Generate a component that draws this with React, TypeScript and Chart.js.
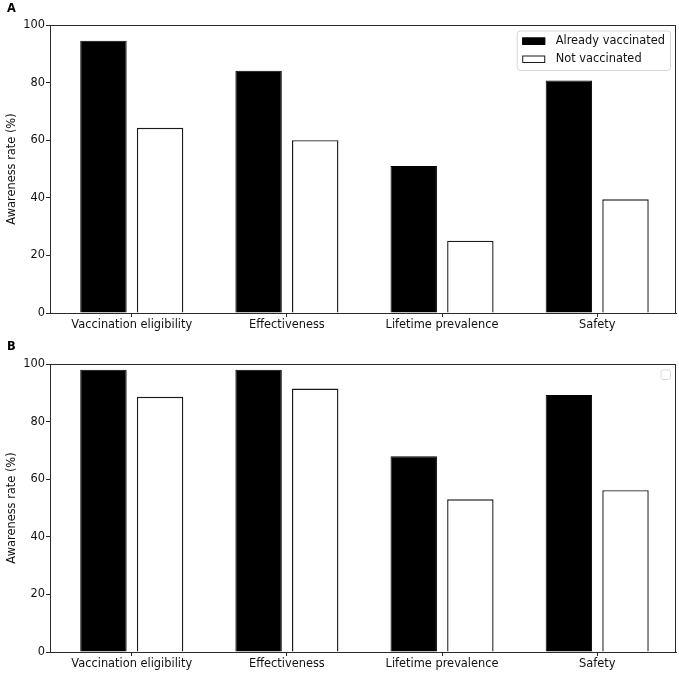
import React, { useEffect, useRef } from "react";
import { Chart, registerables } from "chart.js";

Chart.register(...registerables);

const categories = ["Vaccination eligibility", "Effectiveness", "Lifetime prevalence", "Safety"];
const seriesLabels = ["Already vaccinated", "Not vaccinated"];
const vaccinatedA = [94.5, 84.1, 51.0, 80.7];
const notVaccinatedA = [64.3, 60.0, 25.1, 39.5];
const vaccinatedB = [98.0, 98.0, 68.0, 89.2];
const notVaccinatedB = [88.6, 91.5, 53.0, 56.2];
const yTicks = [0, 20, 40, 60, 80, 100];
const yTitle = "Awareness rate (%)";
const panelLabels = ["A", "B"];

const FONT = "'DejaVu Sans', sans-serif";
const FS = 11.4;
const INK = "#111111";
const SPINE = "#2a2a2a";

const extrasPlugin = {
  id: "panelExtras",
  afterDraw(chart: any) {
    const opts = chart.options.plugins.panelExtras || {};
    const { ctx, chartArea } = chart;
    const { left, right, top, bottom } = chartArea;
    ctx.save();
    // full axes frame
    ctx.strokeStyle = SPINE;
    ctx.lineWidth = 1;
    ctx.strokeRect(Math.round(left) + 0.5, Math.round(top) + 0.5, Math.round(right - left) - 1, Math.round(bottom - top));
    // panel label
    ctx.fillStyle = "#000";
    ctx.font = `bold ${FS}px ${FONT}`;
    ctx.textBaseline = "alphabetic";
    ctx.textAlign = "left";
    ctx.fillText(opts.panel, 7, opts.labelBaseline);
    // legend
    ctx.font = `${FS}px ${FONT}`;
    if (opts.legend) {
      const ds = chart.data.datasets;
      const textW = Math.max(...ds.map((d: any) => ctx.measureText(d.label).width));
      const w = 38 + textW + 6;
      const h = 39.5;
      const bx = right - 5.5 - w;
      const by = top + 6;
      ctx.beginPath();
      ctx.roundRect(bx, by, w, h, 3);
      ctx.fillStyle = "rgba(255,255,255,0.8)";
      ctx.fill();
      ctx.strokeStyle = "#d6d6d6";
      ctx.stroke();
      ds.forEach((d: any, i: number) => {
        const cy = by + 10 + i * 18;
        ctx.fillStyle = d.backgroundColor;
        ctx.fillRect(bx + 5, cy - 3.5, 23, 7);
        ctx.strokeStyle = d.borderColor;
        ctx.lineWidth = 1;
        ctx.strokeRect(bx + 5.5, cy - 3, 22, 6.5);
        ctx.fillStyle = INK;
        ctx.textBaseline = "middle";
        ctx.fillText(d.label, bx + 38.5, cy);
      });
    } else {
      const s = 9.5;
      ctx.beginPath();
      ctx.roundRect(right - 5.5 - s, top + 6, s, s, 2);
      ctx.fillStyle = "rgba(255,255,255,0.8)";
      ctx.fill();
      ctx.strokeStyle = "#dcdcdc";
      ctx.lineWidth = 1;
      ctx.stroke();
    }
    ctx.restore();
  },
};

function makeConfig(vacc: number[], notVacc: number[], panel: string, legend: boolean, plotTop: number, xAxisHeight: number, labelBaseline: number): any {
  const points = (vals: number[]) => vals.map((v, i) => ({ x: i, y: v }));
  const font = { family: FONT, size: FS };
  return {
    type: "bar",
    data: {
      datasets: [
        {
          label: seriesLabels[0],
          data: points(vacc),
          backgroundColor: "#000000",
          borderColor: "#000000",
          borderWidth: 1,
          categoryPercentage: 0.73,
          barPercentage: 0.82,
        },
        {
          label: seriesLabels[1],
          data: points(notVacc),
          backgroundColor: "#ffffff",
          borderColor: "#1a1a1a",
          borderWidth: 1.4,
          categoryPercentage: 0.73,
          barPercentage: 0.82,
        },
      ],
    },
    options: {
      responsive: false,
      animation: false,
      layout: { padding: { top: plotTop, right: 3, left: 0, bottom: 0 } },
      plugins: {
        legend: { display: false },
        tooltip: { enabled: false },
        panelExtras: { panel, legend, labelBaseline },
      },
      scales: {
        x: {
          type: "linear",
          offset: false,
          min: -0.527,
          max: 3.508,
          afterBuildTicks: (s: any) => {
            s.ticks = categories.map((_, i) => ({ value: i }));
          },
          afterFit: (s: any) => {
            s.height = xAxisHeight;
          },
          ticks: {
            callback: (v: any) => categories[v] ?? "",
            autoSkip: false,
            maxRotation: 0,
            font,
            color: INK,
            padding: 1,
          },
          grid: { offset: false, drawOnChartArea: false, tickLength: 4, color: SPINE, lineWidth: 1 },
          border: { display: true, color: SPINE, width: 1 },
        },
        y: {
          min: 0,
          max: 100,
          afterBuildTicks: (s: any) => {
            s.ticks = yTicks.map((v) => ({ value: v }));
          },
          afterFit: (s: any) => {
            s.width = 50;
          },
          ticks: { font, color: INK, padding: 1 },
          grid: { drawOnChartArea: false, tickLength: 4, color: SPINE, lineWidth: 1 },
          border: { display: true, color: SPINE, width: 1 },
          title: { display: true, text: yTitle, font, color: INK, padding: { top: 5, bottom: 0 } },
        },
      },
    },
    plugins: [extrasPlugin],
  };
}

function Panel({ cfg, width, height, top }: { cfg: () => any; width: number; height: number; top: number }) {
  const ref = useRef<HTMLCanvasElement | null>(null);
  useEffect(() => {
    if (!ref.current) return;
    const chart = new Chart(ref.current, cfg());
    return () => chart.destroy();
  }, []);
  return (
    <canvas
      ref={ref}
      width={width}
      height={height}
      style={{ position: "absolute", left: 0, top, width, height }}
    />
  );
}

export default function App() {
  return (
    <div style={{ position: "fixed", left: 0, top: 0, width: 679, height: 675, background: "#fff" }}>
      <Panel cfg={() => makeConfig(vaccinatedA, notVaccinatedA, panelLabels[0], true, 25, 24, 12)} width={679} height={337} top={0} />
      <Panel cfg={() => makeConfig(vaccinatedB, notVaccinatedB, panelLabels[1], false, 27, 23, 13)} width={679} height={338} top={337} />
    </div>
  );
}
